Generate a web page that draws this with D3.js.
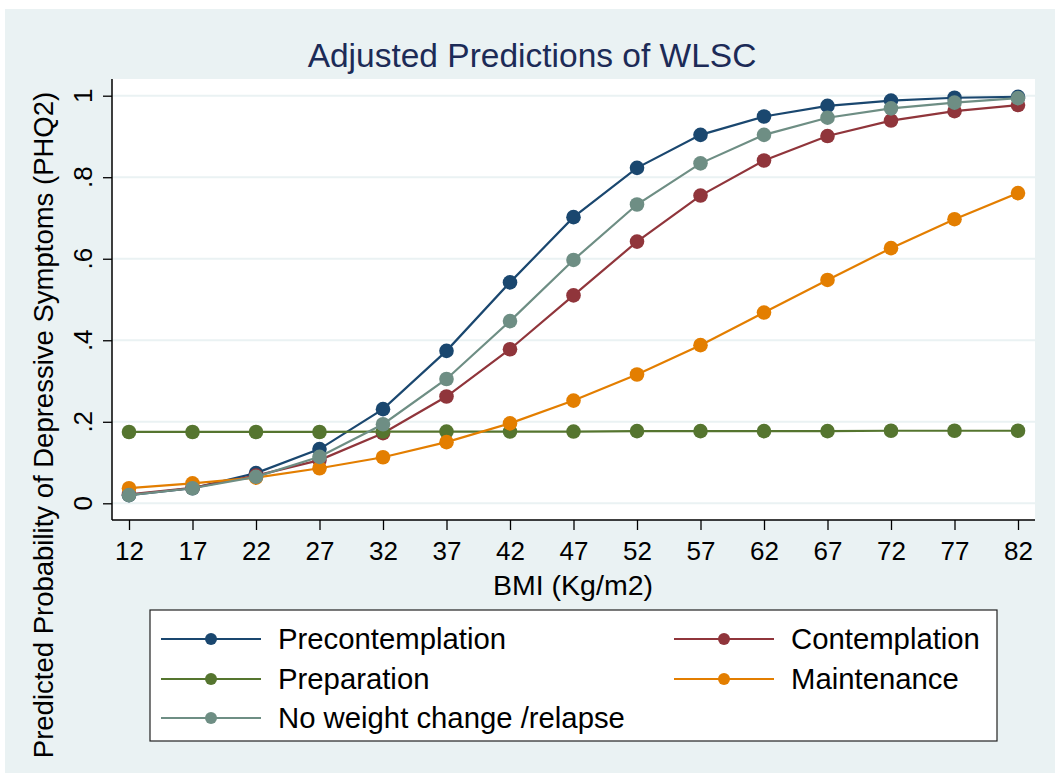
<!DOCTYPE html>
<html>
<head>
<meta charset="utf-8">
<script src="https://cdn.jsdelivr.net/npm/d3@7"></script>
<style>
  body { margin: 0; background: #fff; }
  text { font-family: "Liberation Sans", Arial, sans-serif; }
</style>
</head>
<body>
<div id="chart"></div>
<script>
// BMI values on the x axis
const bmi = [12, 17, 22, 27, 32, 37, 42, 47, 52, 57, 62, 67, 72, 77, 82];

// predicted probabilities
const precontemplation = [0.020, 0.037, 0.074, 0.133, 0.231, 0.374, 0.542, 0.702, 0.823, 0.904, 0.949, 0.975, 0.988, 0.995, 0.997];
const contemplation    = [0.022, 0.038, 0.068, 0.106, 0.172, 0.262, 0.378, 0.510, 0.642, 0.755, 0.841, 0.901, 0.939, 0.962, 0.977];
const preparation      = [0.175, 0.175, 0.175, 0.175, 0.176, 0.176, 0.176, 0.176, 0.177, 0.177, 0.177, 0.177, 0.178, 0.178, 0.178];
const maintenance      = [0.037, 0.049, 0.063, 0.086, 0.113, 0.150, 0.196, 0.252, 0.316, 0.388, 0.468, 0.548, 0.626, 0.697, 0.761];
const noChange         = [0.020, 0.037, 0.065, 0.114, 0.194, 0.305, 0.447, 0.597, 0.733, 0.834, 0.904, 0.946, 0.969, 0.983, 0.994];

const seriesNames = ["Precontemplation", "Contemplation", "Preparation", "Maintenance", "No weight change /relapse"];
const seriesValues = [precontemplation, contemplation, preparation, maintenance, noChange];
const seriesColors = ["#1a476f", "#90353b", "#55752f", "#e37e00", "#6e8e84"];

const yTicks = [0, 0.2, 0.4, 0.6, 0.8, 1];
const yTickLabels = ["0", ".2", ".4", ".6", ".8", "1"];

const width = 1055, height = 773;
const svg = d3.select("#chart").append("svg")
  .attr("width", width).attr("height", height);

// outer background (Stata s2color)
svg.append("rect").attr("x", 5).attr("y", 9)
  .attr("width", width - 5).attr("height", height - 9)
  .attr("fill", "#eaf2f3");

// plot region
const plot = { left: 112, right: 1035, top: 79, bottom: 520 };
svg.append("rect")
  .attr("x", plot.left).attr("y", plot.top)
  .attr("width", plot.right - plot.left).attr("height", plot.bottom - plot.top)
  .attr("fill", "#fff");

const x = d3.scaleLinear().domain([12, 82]).range([129, 1018]);
const y = d3.scaleLinear().domain([0, 1]).range([503.3, 95.7]);

// gridlines
svg.append("g").selectAll("line")
  .data(yTicks)
  .join("line")
  .attr("x1", plot.left).attr("x2", plot.right)
  .attr("y1", d => y(d)).attr("y2", d => y(d))
  .attr("stroke", "#eaf2f3").attr("stroke-width", 2);

// y axis
const yAxis = svg.append("g").attr("transform", `translate(${plot.left},0)`)
  .call(d3.axisLeft(y).tickValues(yTicks).tickSize(9).tickFormat(""));
yAxis.select(".domain").attr("d", `M0,${plot.top}V${plot.bottom}`)
  .attr("stroke", "#000").attr("stroke-width", 1.5);
yAxis.selectAll(".tick line").attr("stroke", "#000").attr("stroke-width", 1.3);

svg.append("g").selectAll("text")
  .data(yTicks)
  .join("text")
  .attr("transform", (d) => `translate(91.5,${y(d)}) rotate(-90)`)
  .attr("text-anchor", "middle")
  .attr("font-size", 26)
  .attr("fill", "#000")
  .text((d, i) => yTickLabels[i]);

// x axis
const xAxis = svg.append("g").attr("transform", `translate(0,${plot.bottom})`)
  .call(d3.axisBottom(x).tickValues(bmi).tickSize(10).tickPadding(14));
xAxis.select(".domain").attr("d", `M${plot.left},0H${plot.right}`)
  .attr("stroke", "#000").attr("stroke-width", 1.5);
xAxis.selectAll(".tick line").attr("stroke", "#000").attr("stroke-width", 1.3);
xAxis.selectAll(".tick text")
  .attr("font-size", 26).attr("fill", "#000")
  .attr("font-family", "Liberation Sans, Arial, sans-serif")
  .attr("dy", null).attr("y", 40);

// lines and markers
const line = d3.line().x((d, i) => x(bmi[i])).y(d => y(d));
seriesValues.forEach((vals, s) => {
  const g = svg.append("g");
  g.append("path")
    .attr("d", line(vals))
    .attr("fill", "none")
    .attr("stroke", seriesColors[s])
    .attr("stroke-width", 2.2);
  g.selectAll("circle")
    .data(vals)
    .join("circle")
    .attr("cx", (d, i) => x(bmi[i]))
    .attr("cy", d => y(d))
    .attr("r", 7.3)
    .attr("fill", seriesColors[s]);
});

// titles
svg.append("text")
  .attr("x", 532).attr("y", 67)
  .attr("text-anchor", "middle")
  .attr("font-size", 33.5)
  .attr("fill", "#1c2b57")
  .text("Adjusted Predictions of WLSC");

svg.append("text")
  .attr("x", 573).attr("y", 595)
  .attr("text-anchor", "middle")
  .attr("font-size", 28.5)
  .attr("fill", "#000")
  .text("BMI (Kg/m2)");

svg.append("text")
  .attr("transform", "translate(53,425) rotate(-90)")
  .attr("text-anchor", "middle")
  .attr("font-size", 27.5)
  .attr("fill", "#000")
  .text("Predicted Probability of Depressive Symptoms (PHQ2)");

// legend
svg.append("rect")
  .attr("x", 150).attr("y", 610)
  .attr("width", 847).attr("height", 131)
  .attr("fill", "#fff")
  .attr("stroke", "#222").attr("stroke-width", 1.2);

const legendPos = [
  { kx: 161, row: 0 }, { kx: 674, row: 0 },
  { kx: 161, row: 1 }, { kx: 674, row: 1 },
  { kx: 161, row: 2 }
];
const rowY = [639, 679, 718];

const items = svg.append("g").selectAll("g")
  .data(seriesNames)
  .join("g")
  .attr("transform", (d, i) => `translate(${legendPos[i].kx},${rowY[legendPos[i].row]})`);

items.append("line")
  .attr("x1", 0).attr("x2", 100).attr("y1", 0).attr("y2", 0)
  .attr("stroke", (d, i) => seriesColors[i]).attr("stroke-width", 2.2);
items.append("circle")
  .attr("cx", 50).attr("cy", 0).attr("r", 6)
  .attr("fill", (d, i) => seriesColors[i]);
items.append("text")
  .attr("x", 117).attr("y", 10)
  .attr("font-size", 29.3)
  .attr("fill", "#000")
  .text(d => d);
</script>
</body>
</html>
